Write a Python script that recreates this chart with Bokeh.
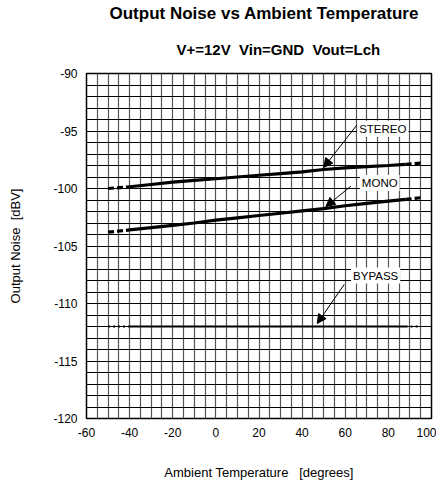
from bokeh.plotting import figure
from bokeh.models import FixedTicker, Label, Arrow, NormalHead, Range1d, Title
from bokeh.embed import file_html
from bokeh.resources import INLINE

# ---- data ----
temps = [-50, -40, -30, -20, -10, 0, 10, 20, 30, 40, 50, 60, 70, 80, 88, 95]
stereo = [-100.0, -99.85, -99.65, -99.45, -99.3, -99.15, -99.0, -98.85, -98.7,
          -98.55, -98.35, -98.2, -98.1, -98.0, -97.9, -97.8]
mono = [-103.8, -103.6, -103.4, -103.2, -103.0, -102.75, -102.55, -102.35, -102.15,
        -101.95, -101.75, -101.5, -101.3, -101.1, -100.95, -100.8]
bypass = [-112.0] * len(temps)
x_ticks = [-60, -40, -20, 0, 20, 40, 60, 80, 100]
y_ticks = [-120, -115, -110, -105, -100, -95, -90]
series_names = ["STEREO", "MONO", "BYPASS"]

FONT = "Liberation Sans"
NB = "\u00a0"

p = figure(width=436, height=482, title=None,
           x_range=Range1d(-60, 100), y_range=Range1d(-120, -90),
           output_backend="svg", toolbar_location=None,
           min_border_left=86, min_border_right=5, min_border_top=73, min_border_bottom=64)
p.background_fill_color = "white"
p.border_fill_color = "white"
p.outline_line_color = "black"
p.outline_line_width = 1.5

# grid
p.xgrid.ticker = FixedTicker(ticks=list(range(-60, 101, 5)))
p.ygrid.ticker = FixedTicker(ticks=list(range(-120, -89, 1)))
p.xgrid.grid_line_color = "#555555"
p.xgrid.grid_line_width = 1.2
p.ygrid.grid_line_color = "black"
p.ygrid.grid_line_width = 1

for ax in (p.xaxis[0], p.yaxis[0]):
    ax.axis_line_color = None
    ax.major_tick_line_color = None
    ax.minor_tick_line_color = None
    ax.major_tick_out = 0
    ax.major_tick_in = 0
    ax.minor_tick_out = 0
    ax.minor_tick_in = 0
    ax.major_label_text_font = FONT
    ax.major_label_text_font_size = "12px"
    ax.major_label_text_color = "black"
    ax.major_label_standoff = 9
    ax.axis_label_text_font = FONT
    ax.axis_label_text_font_size = "13px"
    ax.axis_label_text_font_style = "normal"
    ax.axis_label_text_color = "black"

p.xaxis.ticker = FixedTicker(ticks=x_ticks)
p.yaxis.ticker = FixedTicker(ticks=y_ticks)
p.xaxis.major_label_overrides = {t: str(t) for t in x_ticks}
p.yaxis.major_label_overrides = {t: str(t) for t in y_ticks}
p.xaxis.axis_label = "Ambient Temperature " + NB + NB + "[degrees]"
p.yaxis.axis_label = "Output Noise " + NB + "[dBV]"
p.xaxis.axis_label_standoff = 25
p.yaxis.axis_label_standoff = 27

# series: dashed ends, solid middle
def draw(vals, width, end_dash):
    p.line(temps[0:2], vals[0:2], line_color="black", line_width=width, line_dash=end_dash)
    p.line(temps[1:-1], vals[1:-1], line_color="black", line_width=width)
    p.line(temps[-2:], vals[-2:], line_color="black", line_width=width, line_dash=end_dash)

draw(stereo, 3.2, "6 3")
draw(mono, 3.2, "6 3")
draw(bypass, 2.2, "2 3")

# annotations
i50 = temps.index(50)
ann = [
    (series_names[0], 77.4, -94.8, 65.6, -94.43, temps[i50], stereo[i50] + 0.18),
    (series_names[1], 76.0, -99.52, 62.6, -99.8, temps[i50] + 1, mono[i50] + 0.18),
    (series_names[2], 74.1, -107.57, 59.5, -108.35, temps[i50] - 3, bypass[i50] + 0.26),
]
for name, lx, ly, sx, sy, tx, ty in ann:
    p.add_layout(Arrow(end=NormalHead(size=9, fill_color="black", line_color="black", line_width=1),
                       x_start=sx, y_start=sy, x_end=tx, y_end=ty,
                       line_color="black", line_width=1))
    p.add_layout(Label(x=lx, y=ly, text=name, text_font=FONT, text_font_size="11.5px",
                       text_align="center", text_baseline="middle", text_color="black",
                       background_fill_color="white", padding=2))

# titles (subtitle first = closest to plot)
p.add_layout(Title(text="V+=12V " + NB + "Vin=GND " + NB + "Vout=Lch", align="left", offset=90,
                   text_font=FONT, text_font_size="15px", text_font_style="bold",
                   text_color="black", standoff=32), "above")
p.add_layout(Title(text="Output Noise vs Ambient Temperature", align="left", offset=23,
                   text_font=FONT, text_font_size="17px", text_font_style="bold",
                   text_color="black", standoff=0), "above")

open("out.html", "w").write(file_html(p, INLINE))
